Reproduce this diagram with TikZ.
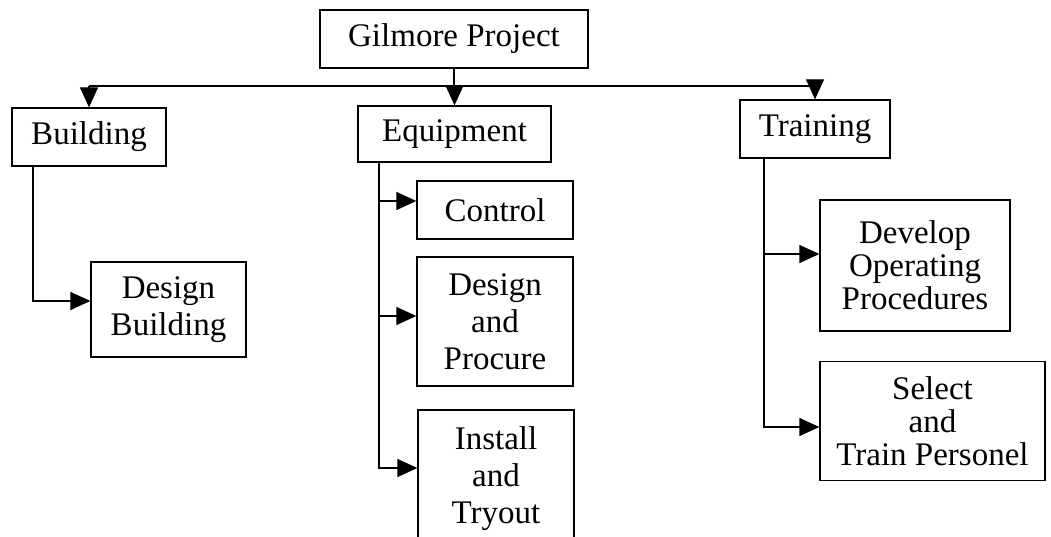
\documentclass[tikz,border=0pt]{standalone}
\usepackage{fontspec}
\setmainfont{Liberation Serif}
\usetikzlibrary{arrows.meta,calc}
\begin{document}
\begin{tikzpicture}[x=1pt,y=-1pt,
  box/.style={draw=black,line width=1.3pt,inner sep=0pt,align=center,
    font=\fontsize{33}{37}\selectfont},
  link/.style={line width=1.3pt},
  arr/.style={line width=1.3pt,-{Triangle[length=20pt,width=18pt]}}]
\fill[white] (0,0) rectangle (1051,537);
\useasboundingbox (0,0) rectangle (1051,537);
% level 0
\node[box,minimum width=268pt,minimum height=58pt] (gp) at (454,39) {Gilmore Project};
% level 1
\node[box,minimum width=154pt,minimum height=58pt] (bld) at (89,137) {Building};
\node[box,minimum width=193pt,minimum height=56pt] (eq) at (454.5,134) {Equipment};
\node[box,minimum width=150pt,minimum height=58pt] (tr) at (815,129) {Training};
% level 2
\node[box,minimum width=155pt,minimum height=95pt] (db) at (168.5,309.5) {Design\\Building};
\node[box,minimum width=156pt,minimum height=58pt] (ctl) at (495,210) {Control};
\node[box,minimum width=156pt,minimum height=129pt] (dp) at (495,321.5) {Design\\and\\Procure};
\node[box,minimum width=156pt,minimum height=138pt] (it) at (496,479) {Install\\and\\Tryout};
\node[box,minimum width=190pt,minimum height=131pt,font=\fontsize{33}{33}\selectfont] (dev) at (915,265.5) {Develop\\Operating\\Procedures};
\node[box,minimum width=225pt,minimum height=119pt,font=\fontsize{33}{33}\selectfont] (sel) at (932.5,421) {Select\\and\\Train Personel};
% bus
\coordinate (bus) at (454,86);
\coordinate (busL) at (bld.north |- bus);
\coordinate (busR) at (tr.north |- bus);
\draw[link] (gp.south) -- (gp.south |- bus);
\draw[link] (busL) -- (busR);
\draw[arr] (busL) -- (bld.north);
\draw[arr] (eq.north |- bus) -- (eq.north);
\draw[arr] (busR) -- (tr.north);
% building
\coordinate (bstem) at (33,166);
\draw[arr] (bstem) |- ([yshift=8.5pt]db.west);
% equipment
\coordinate (estem) at (379,162);
\draw[arr] (estem) |- ([yshift=9pt]ctl.west);
\draw[arr] (estem) |- ([yshift=5.5pt]dp.west);
\draw[arr] (estem) |- ([yshift=11pt]it.west);
% training
\coordinate (tstem) at (764,158);
\draw[arr] (tstem) |- ([yshift=11.5pt]dev.west);
\draw[arr] (tstem) |- ([yshift=-6pt]sel.west);
\end{tikzpicture}
\end{document}
